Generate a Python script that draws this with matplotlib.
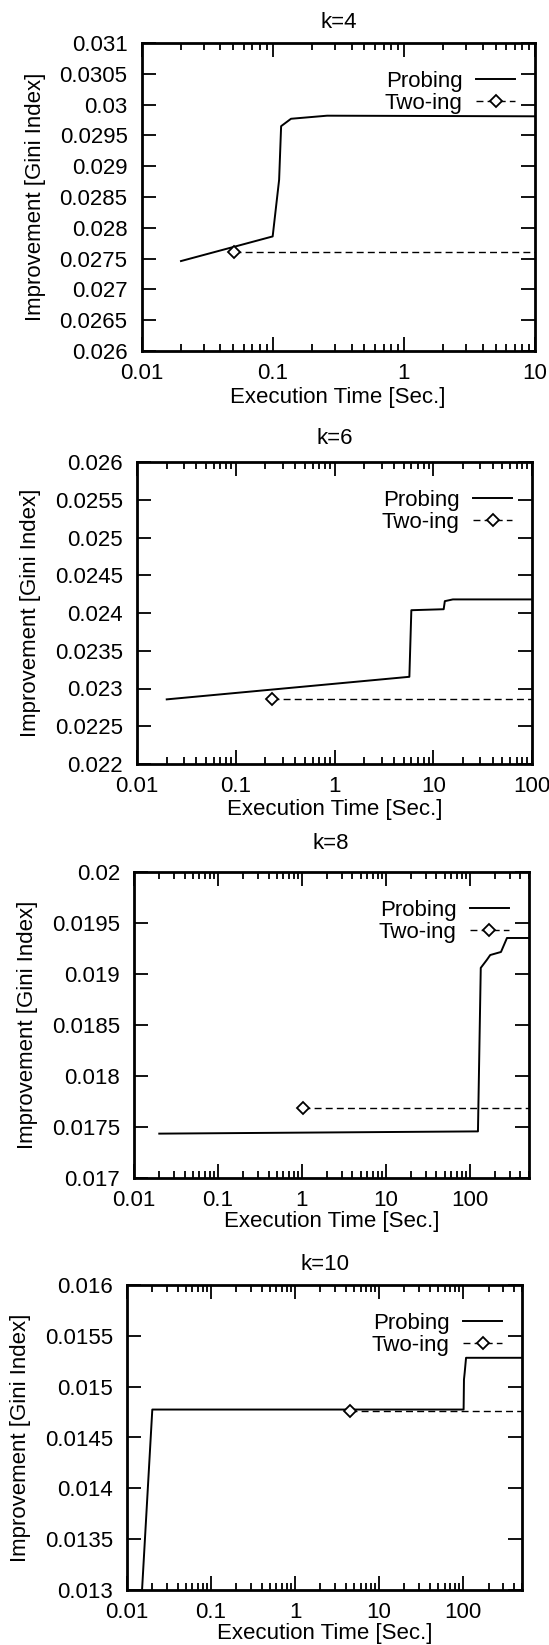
import numpy as np
import matplotlib
matplotlib.use("Agg")
import matplotlib.pyplot as plt
from matplotlib.ticker import FixedLocator, LogLocator, FuncFormatter, NullFormatter

plt.rcParams['font.family'] = ['Liberation Sans', 'DejaVu Sans']

# panel titles and axis ranges
titles = ["k=4", "k=6", "k=8", "k=10"]
x_max = [10, 100, 500, 500]
y_min = [0.026, 0.022, 0.017, 0.013]
y_max = [0.031, 0.026, 0.020, 0.016]

# Probing curves (time in sec, Gini improvement)
k4_probe_t = [0.02, 0.1, 0.112, 0.116, 0.138, 0.26, 10]
k4_probe_v = [0.02746, 0.02786, 0.02878, 0.02965, 0.02977, 0.02982, 0.02981]
k6_probe_t = [0.02, 5.73, 6.0, 12.75, 13.1, 15.8, 100]
k6_probe_v = [0.022856, 0.023155, 0.024037, 0.02405, 0.024157, 0.02418, 0.02418]
k8_probe_t = [0.02, 125, 135, 160, 175, 235, 277, 500]
k8_probe_v = [0.017435, 0.017457, 0.01906, 0.01914, 0.019186, 0.019216, 0.019353, 0.019353]
k10_probe_t = [0.0151, 0.02, 101, 102, 104, 108, 500]
k10_probe_v = [0.013, 0.014775, 0.014775, 0.01507, 0.015137, 0.015284, 0.015284]

# Two-ing: one result, held flat afterwards
k4_two_t = [0.0507, 10]
k4_two_v = [0.02761, 0.02761]
k6_two_t = [0.233, 100]
k6_two_v = [0.022864, 0.022864]
k8_two_t = [1.03, 500]
k8_two_v = [0.017683, 0.017683]
k10_two_t = [4.44, 500]
k10_two_v = [0.014763, 0.014763]

probe = [(k4_probe_t, k4_probe_v), (k6_probe_t, k6_probe_v),
         (k8_probe_t, k8_probe_v), (k10_probe_t, k10_probe_v)]
two = [(k4_two_t, k4_two_v), (k6_two_t, k6_two_v),
       (k8_two_t, k8_two_v), (k10_two_t, k10_two_v)]

W, H = 549, 1645
# axes boxes in pixels: left, right, top, bottom
boxes = [(141.5, 535, 43, 351), (137, 532, 462, 764),
         (134, 528.5, 872, 1178), (127, 522, 1285, 1590)]
title_gap = [21, 24, 28, 21]
xlabel_gap = [47, 46, 44, 44]

FS = 16
fig = plt.figure(figsize=(W / 100, H / 100), dpi=100)

for i in range(4):
    l, r, t, b = boxes[i]
    ax = fig.add_axes([l / W, 1 - b / H, (r - l) / W, (b - t) / H])
    pt, pv = probe[i]
    tt, tv = two[i]
    ax.plot(pt, pv, color='black', lw=1.4, label='Probing')
    ax.plot(tt, tv, color='black', lw=1.0, ls=(0, (5, 3)), marker='D',
            markevery=[0], markersize=6, markerfacecolor='white',
            markeredgewidth=1.3, label='Two-ing')

    ax.set_xscale('log')
    ax.set_xlim(0.01, x_max[i])
    ax.set_ylim(y_min[i], y_max[i])
    yt = np.round(np.arange(y_min[i], y_max[i] + 1e-9, 0.0005), 5)
    ax.yaxis.set_major_locator(FixedLocator(yt))
    ax.yaxis.set_major_formatter(FuncFormatter(lambda v, p: f"{v:g}"))
    ax.xaxis.set_major_locator(LogLocator(base=10, numticks=10))
    ax.xaxis.set_minor_locator(LogLocator(base=10, subs=np.arange(2, 10), numticks=20))
    ax.xaxis.set_major_formatter(FuncFormatter(lambda v, p: f"{v:g}"))
    ax.xaxis.set_minor_formatter(NullFormatter())

    ax.tick_params(which='both', direction='in', top=True, right=True,
                   labelsize=FS, width=1.3)
    ax.tick_params(which='major', length=10)
    ax.tick_params(which='minor', length=5)
    ax.tick_params(axis='y', pad=10)
    ax.tick_params(axis='x', pad=8.5)
    for s in ax.spines.values():
        s.set_linewidth(2)

    bh = b - t
    ax.set_title(titles[i], fontsize=FS, y=1 + title_gap[i] / bh, va='center', pad=0)
    ax.set_xlabel("Execution Time [Sec.]", fontsize=FS)
    ax.xaxis.set_label_coords(0.5, -xlabel_gap[i] / bh)
    ax.xaxis.label.set_va('center')
    ax.set_ylabel("Improvement [Gini Index]", fontsize=FS)
    ax.yaxis.set_label_coords(-0.27, 0.5)
    ax.yaxis.label.set_va('center')

    ax.legend(loc='upper right', frameon=False, markerfirst=False, fontsize=FS,
              handlelength=1.75, handletextpad=0.6, labelspacing=0.05,
              bbox_to_anchor=(1.0, 0.975))

fig.savefig("out.png", dpi=100)
